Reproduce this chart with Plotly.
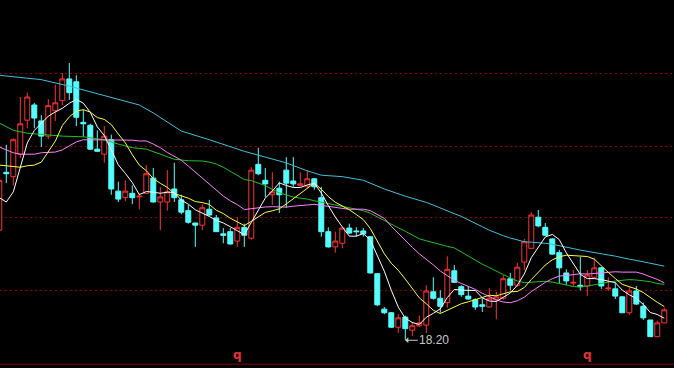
import pandas as pd
import plotly.graph_objects as go

# ---------------- data (prices) ----------------
idx = list(range(96))

open_ = [19.72, 20.52, 20.46, 20.77, 21.24, 21.45, 21.23, 21.02, 21.37, 21.51,
         21.81, 21.77, 21.21, 21.17, 20.84, 20.77, 20.97, 20.26, 20.17, 20.23,
         20.18, 20.23, 20.44, 20.11, 20.11, 20.29, 20.14, 19.99, 19.82, 19.79,
         20.01, 19.89, 19.67, 19.70, 19.57, 19.76, 19.61, 20.63, 20.41, 20.21,
         20.30, 20.55, 20.40, 20.34, 20.33, 20.43, 20.17, 19.70, 19.49, 19.54,
         19.75, 19.71, 19.71, 19.63, 19.12, 18.63, 18.58, 18.38, 18.52, 18.34,
         18.40, 18.41, 18.87, 18.78, 18.72, 19.16, 18.94, 18.81, 18.76, 18.69,
         18.66, 18.76, 18.78, 19.05, 18.96, 19.28, 19.47, 19.90, 19.76, 19.60,
         19.41, 19.13, 18.99, 18.96, 18.95, 19.07, 19.20, 18.91, 18.91, 18.80,
         18.58, 18.88, 18.67, 18.48, 18.25, 18.44]

high = [20.44, 20.90, 20.99, 21.56, 21.62, 21.48, 21.31, 21.53, 21.73, 21.89,
        22.03, 21.86, 21.38, 21.19, 21.10, 21.16, 21.04, 20.39, 20.41, 20.34,
        20.23, 20.62, 20.58, 20.32, 20.55, 20.65, 20.21, 20.07, 19.82, 20.08,
        20.14, 19.93, 19.75, 19.75, 19.90, 19.81, 20.59, 20.86, 20.58, 20.52,
        20.39, 20.73, 20.73, 20.52, 20.55, 20.44, 20.32, 19.76, 19.70, 19.76,
        19.81, 19.76, 19.75, 19.64, 19.13, 18.66, 18.59, 18.56, 18.54, 18.45,
        18.54, 18.96, 19.07, 18.89, 19.36, 19.24, 18.96, 18.94, 18.78, 18.78,
        18.92, 18.87, 19.10, 19.13, 19.27, 19.60, 19.97, 20.00, 19.82, 19.61,
        19.45, 19.18, 19.17, 19.35, 19.17, 19.34, 19.21, 19.07, 19.00, 18.81,
        18.94, 18.95, 18.72, 18.48, 18.47, 18.65]

low = [19.70, 20.37, 20.34, 20.72, 21.13, 21.13, 20.87, 20.98, 21.23, 21.45,
       21.52, 21.16, 21.01, 20.83, 20.80, 20.65, 20.21, 20.11, 20.12, 20.08,
       20.01, 20.22, 20.10, 19.72, 19.99, 20.11, 19.94, 19.81, 19.49, 19.72,
       19.92, 19.70, 19.54, 19.52, 19.49, 19.49, 19.59, 20.48, 20.18, 20.07,
       19.96, 20.03, 20.32, 20.32, 20.30, 20.28, 19.63, 19.48, 19.41, 19.47,
       19.67, 19.63, 19.63, 19.12, 18.67, 18.56, 18.37, 18.30, 18.20, 18.26,
       18.38, 18.30, 18.76, 18.58, 18.65, 18.99, 18.80, 18.76, 18.62, 18.59,
       18.65, 18.49, 18.76, 18.89, 18.94, 19.17, 19.46, 19.76, 19.64, 19.38,
       18.99, 18.96, 18.95, 18.89, 18.81, 19.06, 18.91, 18.88, 18.77, 18.58,
       18.55, 18.69, 18.48, 18.25, 18.25, 18.44]

close = [20.41, 20.50, 20.97, 21.19, 21.56, 21.27, 21.02, 21.44, 21.48, 21.81,
         21.62, 21.28, 21.19, 20.84, 20.81, 21.02, 20.29, 20.15, 20.26, 20.17,
         20.19, 20.50, 20.11, 20.18, 20.25, 20.17, 19.97, 19.83, 19.79, 20.03,
         19.93, 19.70, 19.65, 19.53, 19.76, 19.65, 20.55, 20.50, 20.36, 20.25,
         20.21, 20.37, 20.36, 20.36, 20.43, 20.32, 19.70, 19.49, 19.57, 19.75,
         19.68, 19.70, 19.67, 19.13, 18.69, 18.58, 18.38, 18.51, 18.36, 18.40,
         18.44, 18.88, 18.78, 18.67, 19.18, 19.00, 18.83, 18.77, 18.66, 18.67,
         18.78, 18.80, 19.05, 18.96, 19.21, 19.56, 19.93, 19.78, 19.65, 19.39,
         19.20, 19.02, 19.00, 18.94, 19.10, 19.20, 18.95, 18.92, 18.81, 18.58,
         18.88, 18.70, 18.51, 18.25, 18.44, 18.62]

# moving-average values read off the picture where the window reaches
# back before the first visible candle
ma5_head = [20.17, 20.11, 20.25, 20.58]
ma10_head = [20.62, 20.61, 20.59, 20.59, 20.61, 20.62, 20.66, 20.80, 20.95]
ma20_head = [20.87, 20.83, 20.79, 20.77, 20.77, 20.77, 20.79, 20.79, 20.80, 20.83,
             20.88, 20.94, 20.97, 20.97, 20.97, 20.97, 20.97, 20.97, 20.97]
ma30_head_idx = [0, 2, 4, 6, 9, 12, 15, 17, 19, 21, 23, 25, 27, 28]
ma30_head_val = [21.20, 21.10, 21.06, 21.04, 21.02, 21.01, 20.97, 20.91, 20.86,
                 20.84, 20.77, 20.70, 20.68, 20.68]
ma60_head_idx = [0, 6, 10, 13, 17, 20, 22, 24, 26, 30, 35, 41, 44, 46, 49, 52, 55, 58]
ma60_head_val = [21.86, 21.80, 21.71, 21.63, 21.52, 21.45, 21.34, 21.21, 21.09,
                 20.97, 20.81, 20.65, 20.54, 20.48, 20.46, 20.41, 20.29, 20.19]

grid_levels = [18.89, 19.89, 20.88, 21.89]
base_level = 17.87
y_range = [17.817, 22.9]
x_range = [0.1, 96.386]

low_label = "18.20"
low_index = 58
low_value = 18.20
marker_idx = [34, 84]
marker_text = "q"

# ---------------- styles ----------------
UP = "#FF3232"
DOWN = "#54FFFF"
GRID = "#8B0000"
ma_colors = {5: "#FFFFFF", 10: "#FFFF40", 20: "#FF80FF", 30: "#20C020", 60: "#3FC0D8"}


def moving_average(n, head_x, head_y):
    s = pd.Series(close).rolling(n).mean()
    xs = list(head_x) + idx[n - 1:]
    ys = list(head_y) + list(s.iloc[n - 1:])
    return xs, ys


fig = go.Figure()

fig.add_trace(go.Candlestick(
    x=idx, open=open_, high=high, low=low, close=close,
    increasing=dict(line=dict(color=UP, width=1), fillcolor="#000000"),
    decreasing=dict(line=dict(color=DOWN, width=1), fillcolor=DOWN),
    whiskerwidth=0, showlegend=False, hoverinfo="skip",
))

lines = [
    (60, ma60_head_idx, ma60_head_val),
    (30, ma30_head_idx, ma30_head_val),
    (20, list(range(19)), ma20_head),
    (10, list(range(9)), ma10_head),
    (5, list(range(4)), ma5_head),
]
for n, hx, hy in lines:
    xs, ys = moving_average(n, hx, hy)
    fig.add_trace(go.Scatter(x=xs, y=ys, mode="lines",
                             line=dict(color=ma_colors[n], width=1),
                             showlegend=False, hoverinfo="skip"))

# bottom solid line
fig.add_shape(type="line", xref="paper", x0=0, x1=1, yref="y",
              y0=base_level, y1=base_level, line=dict(color=GRID, width=1))

# low label with arrow
fig.add_annotation(x=low_index, y=low_value, text=low_label, showarrow=True,
                   ax=29, ay=0, arrowhead=1, arrowsize=1, arrowwidth=1,
                   arrowcolor="#C8C8C8", standoff=0,
                   font=dict(color="#C8C8C8", size=12, family="Liberation Sans, Arial"))

for mi in marker_idx:
    fig.add_annotation(x=mi, y=0.036, yref="paper", text=marker_text, showarrow=False,
                       yanchor="middle",
                       font=dict(color="#E83232", size=12, family="DejaVu Sans", weight="bold"))

fig.update_layout(
    width=674, height=368,
    margin=dict(l=0, r=0, t=0, b=0),
    paper_bgcolor="#000000", plot_bgcolor="#000000",
    boxgap=0.29, boxgroupgap=0,
    xaxis=dict(range=x_range, showgrid=False, showticklabels=False, zeroline=False,
               rangeslider=dict(visible=False), showline=False, ticks=""),
    yaxis=dict(range=y_range, tickvals=grid_levels, showticklabels=False,
               gridcolor=GRID, gridwidth=1, griddash="2px,3px", zeroline=False,
               showline=False, ticks=""),
)

fig.write_html("out.html")
